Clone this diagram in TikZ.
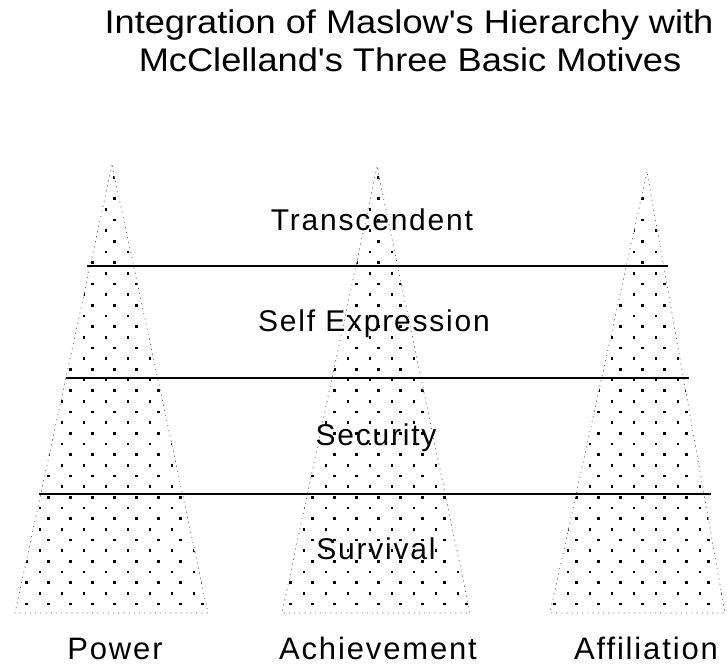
\documentclass[tikz,border=0pt]{standalone}
\usepackage{fontspec}
\setmainfont{Liberation Sans}
\newfontfamily\spacedsans[LetterSpace=6]{Liberation Sans}
\begin{document}
\begin{tikzpicture}[x=1pt,y=-1pt,
  titletext/.style={anchor=base,inner sep=0pt,font=\fontsize{31.5}{36}\selectfont},
  layertext/.style={anchor=base,inner sep=0pt,font=\spacedsans\fontsize{30}{32}\selectfont},
  motivetext/.style={anchor=base,inner sep=0pt,font=\spacedsans\fontsize{31}{32}\selectfont},
  rim/.style={draw=black!60,line width=0.7pt,dash pattern=on 1.2pt off 4pt},
  divider/.style={draw=black,line width=1.5pt},
  stipple/.style={fill=black}]
\useasboundingbox (0,0) rectangle (727,666);

% corners of the three pyramids
\coordinate (Pa) at (112,165); \coordinate (Pl) at (15,613);  \coordinate (Pr) at (208,613);
\coordinate (Aa) at (377,167); \coordinate (Al) at (282,613); \coordinate (Ar) at (470,613);
\coordinate (Fa) at (647,172); \coordinate (Fl) at (550,613); \coordinate (Fr) at (725,613);

% stippled fill of each pyramid
\foreach \ap/\bl/\br/\lo/\hi in {Pa/Pl/Pr/0/10, Aa/Al/Ar/12/22, Fa/Fl/Fr/24/33}{
  \begin{scope}
    \clip (\ap) -- (\bl) -- (\br) -- cycle;
    \foreach \k in {0,...,42}{
      \pgfmathsetmacro\yy{604-\k*10.667}
      \pgfmathsetmacro\off{mod(\k,2)==1 ? 18 : 4.7}
      \foreach \m in {\lo,...,\hi}{
        \fill[stipple] (\off+22*\m-1.25,\yy-1.25) rectangle ++(2.5,2.5);
      }
    }
  \end{scope}
  \draw[rim] (\ap) -- (\bl) -- (\br) -- cycle;
}

% level dividers
\coordinate (D1l) at (87,266); \coordinate (D1r) at (668,266);
\coordinate (D2l) at (66,378); \coordinate (D2r) at (689,378);
\coordinate (D3l) at (39,494); \coordinate (D3r) at (711,494);
\draw[divider] (D1l) -- (D1r);
\draw[divider] (D2l) -- (D2r);
\draw[divider] (D3l) -- (D3r);

% title
\node[titletext] (title1) at (409,34) {\scalebox{1.15}[1.04]{Integration of Maslow\textquotesingle s Hierarchy with}};
\node[titletext] (title2) at (410,72) {\scalebox{1.15}[1.04]{McClelland\textquotesingle s Three Basic Motives}};

% needs levels
\node[layertext] (transcendent) at (372,230) {Transcendent};
\node[layertext] (selfexpr) at (374,331) {Self Expression};
\node[layertext] (security) at (376,445) {Security};
\node[layertext] (survival) at (376,559) {Survival};

% motives
\node[motivetext] (power) at (115,659) {Power};
\node[motivetext] (achievement) at (378,659) {Achievement};
\node[motivetext] (affiliation) at (646,659) {Affiliation};
\end{tikzpicture}
\end{document}
